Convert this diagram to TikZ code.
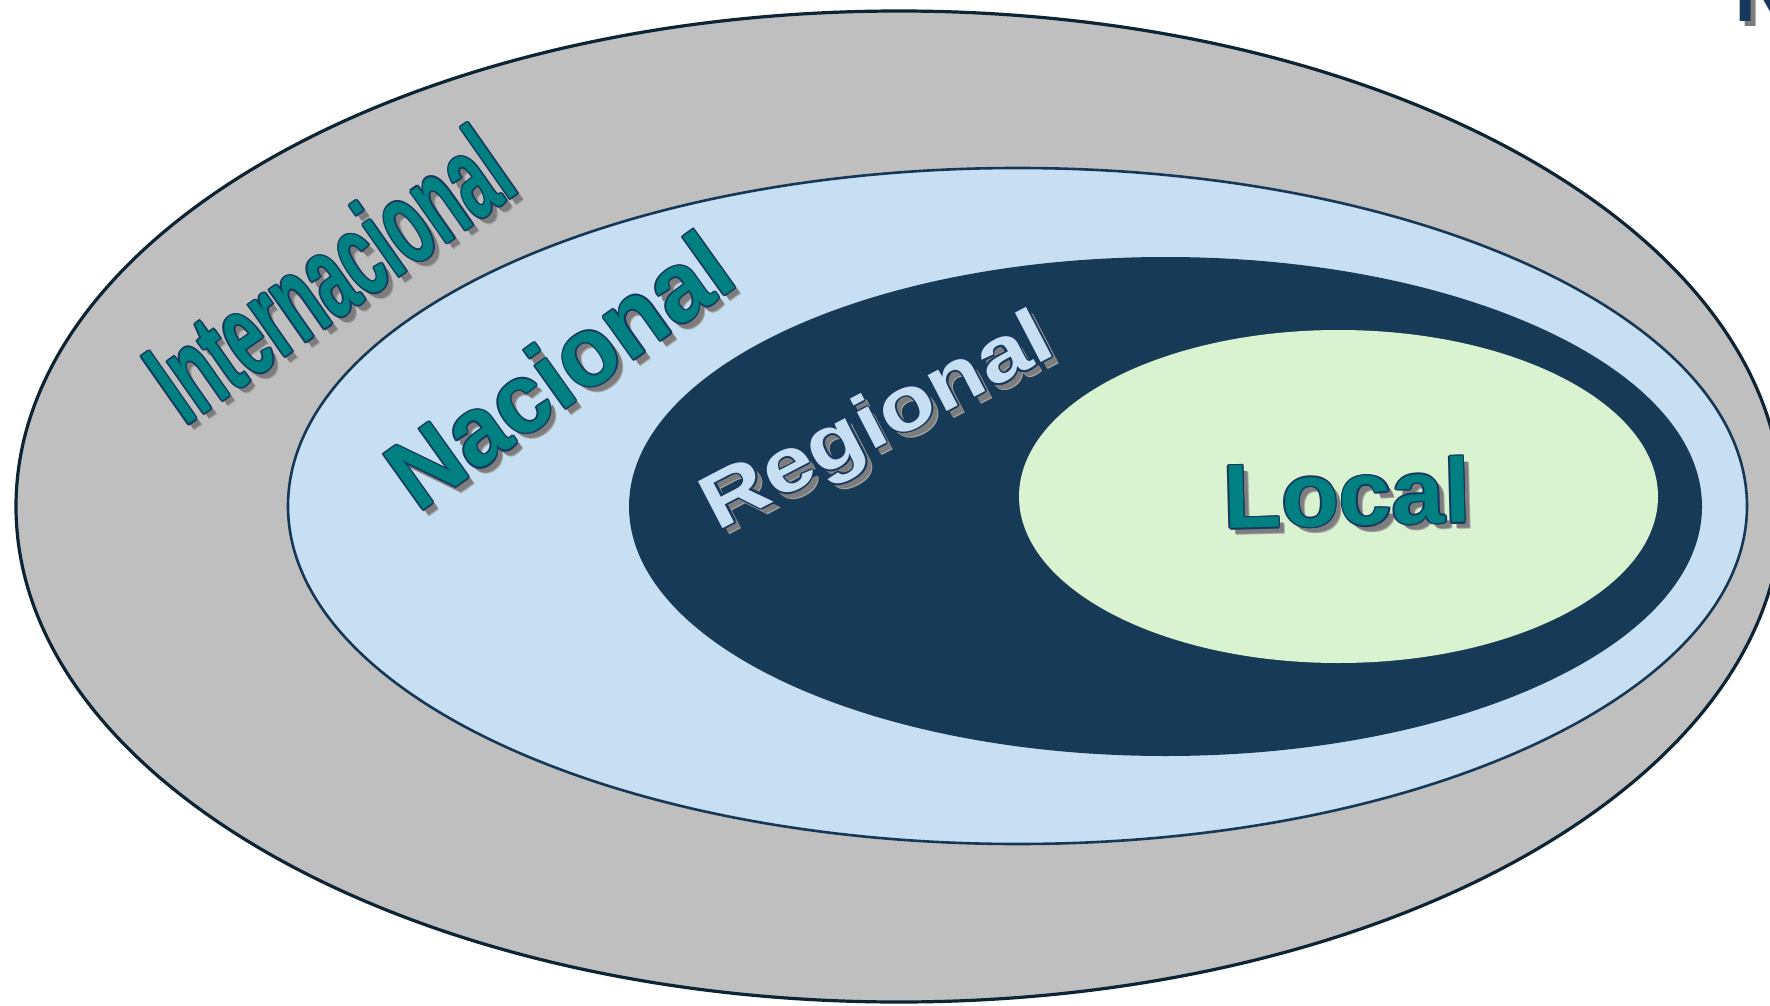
\documentclass[tikz,border=0pt]{standalone}
\usepackage{fontspec}
\setmainfont{Liberation Sans}
\usepackage{graphicx}
\usetikzlibrary{calc}
\definecolor{ringGray}{RGB}{191, 191, 191}
\definecolor{ringEdge}{RGB}{12, 36, 52}
\definecolor{nationFill}{RGB}{198, 223, 242}
\definecolor{nationEdge}{RGB}{22, 56, 86}
\definecolor{regionFill}{RGB}{23, 59, 87}
\definecolor{localFill}{RGB}{217, 242, 208}
\definecolor{tealText}{RGB}{0, 128, 128}
\definecolor{edgeColor}{RGB}{23, 55, 94}
\definecolor{shadowGray}{RGB}{125, 125, 125}
\tikzset{
    ring_outer/.style={
        fill=ringGray,
        draw=ringEdge,
        line width=3.2pt
    },
    ring_nation/.style={
        fill=nationFill,
        draw=nationEdge,
        line width=2.6pt
    },
    ring_region/.style={
        fill=regionFill
    },
    ring_local/.style={
        fill=localFill
    },
    art_text/.style={
        inner sep=0pt,
        anchor=center,
        font=\bfseries
    }
}
% word with drop shadow and dark outline
\newcommand{\artword}[6]{%
    \node[art_text, text=shadowGray!70, rotate=#3] at ($#2+(6.5,6.5)$) {#5#6};
    \node[art_text, text=shadowGray, rotate=#3] at ($#2+(5.5,5.5)$) {#5#6};
    \foreach \ox/\oy in {1.6/0, -1.6/0, 0/1.6, 0/-1.6, 1.1/1.1, -1.1/1.1, 1.1/-1.1, -1.1/-1.1}
        \node[art_text, text=edgeColor, rotate=#3] at ($#2+(\ox,\oy)$) {#5#6};
    \node[art_text, text=#4, rotate=#3] (#1) at #2 {#5#6};
}

\begin{document}
\begin{tikzpicture}[x=1pt, y=-1pt]
    \useasboundingbox (0,0) rectangle (1770,1006);
    \fill[white] (0,0) rectangle (1770,1006);

    \path[ring_outer] (899,506.5) ellipse [x radius=883, y radius=495.5];
    \path[ring_nation] (1017.5,506) ellipse [x radius=729.5, y radius=338];
    \path[ring_region] (1165.5,506.5) ellipse [x radius=536.5, y radius=249.5];
    \path[ring_local] (1338.5,496.5) ellipse [x radius=319.5, y radius=166.5];

    \artword{internacional}{(329,274)}{35}{tealText}{\fontsize{120}{120}\selectfont}{\scalebox{0.55}[1]{Internacional}}
    \artword{nacional}{(559,370)}{35.5}{tealText}{\fontsize{99}{99}\selectfont}{\scalebox{0.96}[1]{Nacional}}
    \artword{regional}{(879,425)}{27.5}{nationFill}{\fontsize{77}{77}\selectfont}{\scalebox{1.18}[1]{Regional}}
    \artword{local}{(1347,493)}{1.5}{tealText}{\fontsize{91}{91}\selectfont}{\scalebox{1.04}[1]{Local}}

    % cut-off title letter
    \node[art_text, anchor=base west, text=shadowGray, font=\bfseries\fontsize{85}{85}\selectfont] at (1739,27) {N};
    \node[art_text, anchor=base west, text=edgeColor, font=\bfseries\fontsize{85}{85}\selectfont] (title) at (1734,22) {N};
\end{tikzpicture}
\end{document}
